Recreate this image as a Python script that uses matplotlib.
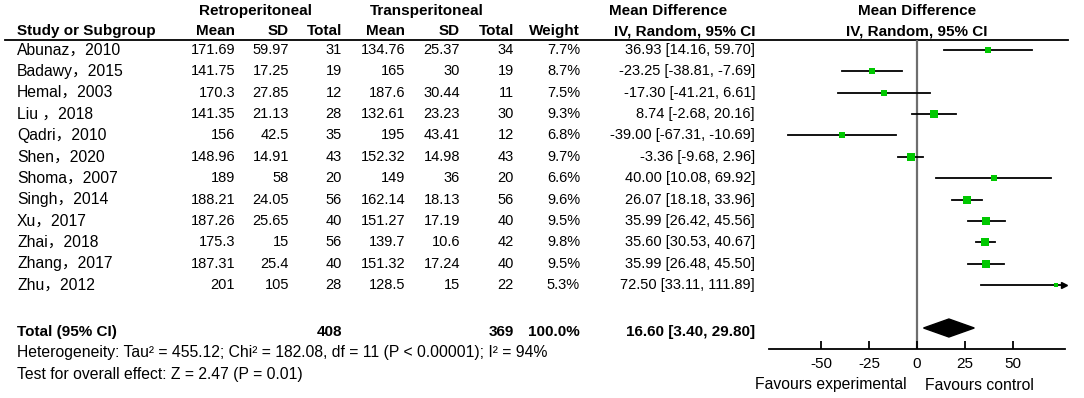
import matplotlib
matplotlib.use("Agg")
import matplotlib.pyplot as plt
from matplotlib.patches import Polygon

plt.rcParams['font.family'] = ['Liberation Sans', 'Noto Sans CJK SC', 'DejaVu Sans']
plt.rcParams['font.size'] = 10.5

# data
studies = ["Abunaz，2010", "Badawy，2015", "Hemal，2003", "Liu ，2018", "Qadri，2010",
           "Shen，2020", "Shoma，2007", "Singh，2014", "Xu，2017", "Zhai，2018",
           "Zhang，2017", "Zhu，2012"]
retro_mean = ["171.69", "141.75", "170.3", "141.35", "156", "148.96", "189", "188.21",
              "187.26", "175.3", "187.31", "201"]
retro_sd = ["59.97", "17.25", "27.85", "21.13", "42.5", "14.91", "58", "24.05",
            "25.65", "15", "25.4", "105"]
retro_n = [31, 19, 12, 28, 35, 43, 20, 56, 40, 56, 40, 28]
trans_mean = ["134.76", "165", "187.6", "132.61", "195", "152.32", "149", "162.14",
              "151.27", "139.7", "151.32", "128.5"]
trans_sd = ["25.37", "30", "30.44", "23.23", "43.41", "14.98", "36", "18.13",
            "17.19", "10.6", "17.24", "15"]
trans_n = [34, 19, 11, 30, 12, 43, 20, 56, 40, 42, 40, 22]
weight = [7.7, 8.7, 7.5, 9.3, 6.8, 9.7, 6.6, 9.6, 9.5, 9.8, 9.5, 5.3]
md = [36.93, -23.25, -17.30, 8.74, -39.00, -3.36, 40.00, 26.07, 35.99, 35.60, 35.99, 72.50]
lo = [14.16, -38.81, -41.21, -2.68, -67.31, -9.68, 10.08, 18.18, 26.42, 30.53, 26.48, 33.11]
hi = [59.70, -7.69, 6.61, 20.16, -10.69, 2.96, 69.92, 33.96, 45.56, 40.67, 45.50, 111.89]
total_md, total_lo, total_hi = 16.60, 3.40, 29.80
ticks = [-50, -25, 0, 25, 50]
xmin, xmax = -77, 77

W, H = 1084, 398
fig = plt.figure(figsize=(W / 100, H / 100), dpi=100)

# table axes in pixel coordinates
ax = fig.add_axes([0, 0, 1, 1])
ax.set_xlim(0, W)
ax.set_ylim(H, 0)
ax.axis('off')

row_y = [50 + 21.36 * i for i in range(len(studies))]
total_y = 332
txt = 11.3   # word text
num = 10.5   # numbers

# headers
hb = dict(fontweight='bold', va='center', fontsize=11)
ax.text(256, 11, "Retroperitoneal", ha='center', **hb)
ax.text(427, 11, "Transperitoneal", ha='center', **hb)
ax.text(668, 11, "Mean Difference", ha='center', **hb)
ax.text(917, 11, "Mean Difference", ha='center', **hb)
ax.text(17, 31, "Study or Subgroup", ha='left', **hb)
for x, s in [(235, "Mean"), (289, "SD"), (342, "Total"), (405, "Mean"), (460, "SD"),
             (514, "Total"), (580, "Weight"), (755, "IV, Random, 95% CI")]:
    ax.text(x, 31, s, ha='right', **hb)
ax.text(917, 31, "IV, Random, 95% CI", ha='center', **hb)
ax.plot([5, 1068], [39.5, 39.5], color='black', lw=1.3)

for i, y in enumerate(row_y):
    ax.text(17, y, studies[i], ha='left', va='center', fontsize=txt)
    ax.text(235, y, retro_mean[i], ha='right', va='center', fontsize=num)
    ax.text(289, y, retro_sd[i], ha='right', va='center', fontsize=num)
    ax.text(342, y, str(retro_n[i]), ha='right', va='center', fontsize=num)
    ax.text(405, y, trans_mean[i], ha='right', va='center', fontsize=num)
    ax.text(460, y, trans_sd[i], ha='right', va='center', fontsize=num)
    ax.text(514, y, str(trans_n[i]), ha='right', va='center', fontsize=num)
    ax.text(580, y, f"{weight[i]:.1f}%", ha='right', va='center', fontsize=num)
    ax.text(755, y, f"{md[i]:.2f} [{lo[i]:.2f}, {hi[i]:.2f}]", ha='right', va='center',
            fontsize=num)

ax.text(17, total_y, "Total (95% CI)", ha='left', **hb)
ax.text(342, total_y, str(sum(retro_n)), ha='right', **hb)
ax.text(514, total_y, str(sum(trans_n)), ha='right', **hb)
ax.text(580, total_y, "100.0%", ha='right', **hb)
ax.text(755, total_y, f"{total_md:.2f} [{total_lo:.2f}, {total_hi:.2f}]", ha='right', **hb)
ax.text(17, 353, "Heterogeneity: Tau² = 455.12; Chi² = 182.08, df = 11 (P < 0.00001); I² = 94%",
        ha='left', va='center', fontsize=txt)
ax.text(17, 375, "Test for overall effect: Z = 2.47 (P = 0.01)", ha='left', va='center',
        fontsize=txt)

# forest axes
top_px, bot_px = 40, 349
left_px, right_px = 769, 1065
fa = fig.add_axes([left_px / W, (H - bot_px) / H, (right_px - left_px) / W, (bot_px - top_px) / H])
fa.set_xlim(xmin, xmax)
fa.set_ylim(bot_px, top_px)
fa.patch.set_alpha(0)
for s in ['top', 'left', 'right']:
    fa.spines[s].set_visible(False)
fa.spines['bottom'].set_linewidth(1.3)
fa.set_yticks([])
fa.set_xticks(ticks)
fa.set_xticklabels([str(t) for t in ticks])
fa.tick_params(axis='x', direction='in', length=6, width=1.3, pad=6, labelsize=11)
fa.axvline(0, color='#6e6e6e', lw=1.6, zorder=1)

for i, y in enumerate(row_y):
    right = min(hi[i], xmax - 0.5)
    fa.plot([lo[i], right], [y, y], color='black', lw=1.3, zorder=2, clip_on=False)
    if hi[i] > xmax:
        fa.plot([right], [y], marker='>', color='black', markersize=5, zorder=3, clip_on=False)
    fa.plot([md[i]], [y], marker='s', color='#00c800', markersize=0.56 * weight[i],
            markeredgewidth=0, zorder=4)

dia = Polygon([[total_lo, total_y - 4], [total_md, total_y - 13], [total_hi, total_y - 4],
               [total_md, total_y + 5]], closed=True, facecolor='black', edgecolor='black', zorder=3)
fa.add_patch(dia)

ax.text(907, 385, "Favours experimental", ha='right', va='center', fontsize=txt)
ax.text(925, 385, "Favours control", ha='left', va='center', fontsize=txt)

fig.savefig("out.png", dpi=100)
